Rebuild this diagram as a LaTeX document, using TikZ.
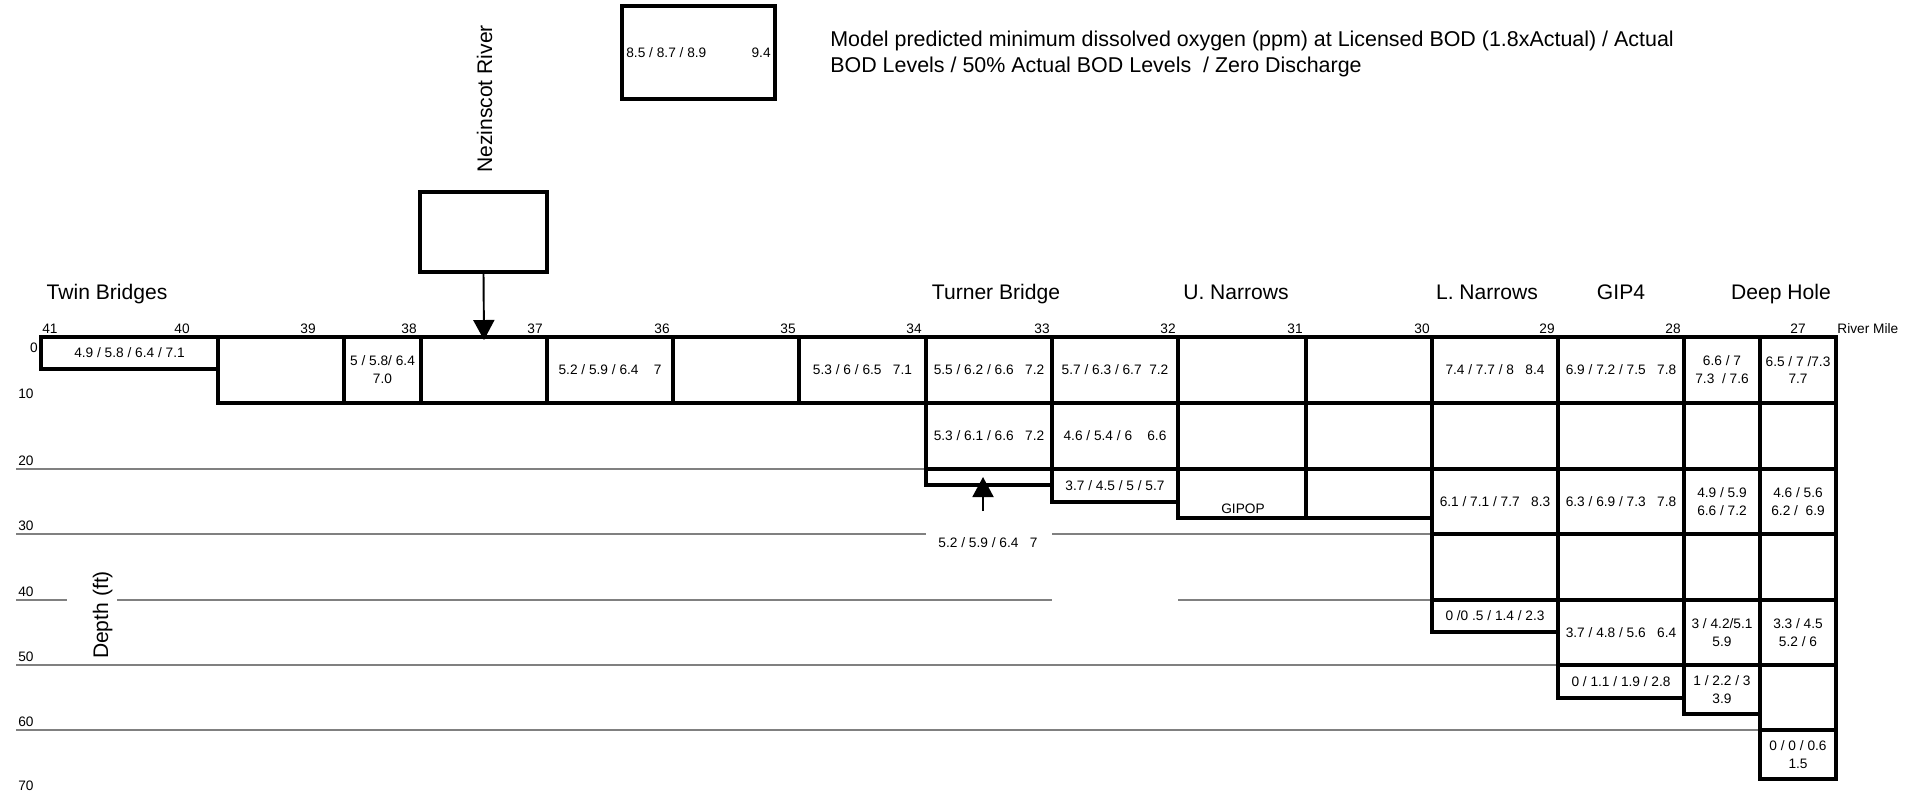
\documentclass[tikz,border=0pt]{standalone}
\usepackage{fontspec}
\setmainfont{Liberation Sans}
\usetikzlibrary{arrows.meta,positioning}
\definecolor{lvlgray}{RGB}{128,128,128}
\tikzset{
  cellln/.style={draw=black, line width=1.8pt},
  lvl/.style={lvlgray, line width=1.5pt},
  val/.style={font=\fontsize{7.8}{10.2}\selectfont, align=center, inner sep=0pt},
  mile/.style={font=\fontsize{7.8}{10.2}\selectfont, anchor=base, inner sep=0pt},
  stn/.style={font=\fontsize{12}{14.7}\selectfont, inner sep=0pt},
  legtxt/.style={font=\fontsize{12.2}{14.7}\selectfont, inner sep=0pt, anchor=base west},
  inflow/.style={-{Triangle[length=0.4cm, width=0.42cm]}, line width=1.1pt},
  keybox/.style={draw, line width=1.8pt, inner sep=0pt},
}
\newcommand{\oxcell}[6]{%
  \draw[cellln] (#2,#4) rectangle (#3,#5);
  \node[val] (#1) at ({(#2+#3)/2},{(#4+#5)/2}) {#6};}

\begin{document}
\begin{tikzpicture}[x=0.02cm, y=-0.02cm]
    \useasboundingbox (0,0) rectangle (1923,792);
    \node[keybox, minimum width=3.06cm, minimum height=1.86cm] (key) at (698.5,52.5) {};
    \node[val, anchor=west] (keyv) at (626,53) {8.5 / 8.7 / 8.9};
    \node[val, anchor=east] (keyz) at (771,53) {9.4};
    \node[legtxt] (leg1) at (830,46)
      {Model predicted minimum dissolved oxygen (ppm) at Licensed BOD (1.8xActual) / Actual};
    \node[legtxt] (leg2) at (830,72)
      {BOD Levels / 50\% Actual BOD Levels~~/ Zero Discharge};
    \node[keybox, minimum width=2.54cm, minimum height=1.6cm] (nez) at (483.5,232) {};
    \node[stn, rotate=90, anchor=base] (nezlbl) at (492,99) {Nezinscot River};
    \coordinate (nezin) at (484,340);
    \foreach \s/\x in {Twin Bridges/107, Turner Bridge/996, U. Narrows/1236,
                       L. Narrows/1487, GIP4/1621, Deep Hole/1781}
      \node[stn, anchor=base] (st\x) at (\x,299) {\s};
    \foreach \m/\x in {41/50,40/182,39/308,38/409,37/535,36/662,35/788,34/914,
                       33/1042,32/1168,31/1295,30/1422,29/1547,28/1673,27/1798}
      \node[mile] (m\m) at (\x,333) {\m};
    \node[mile, anchor=base west] (rm) at (1837,333) {River Mile};
    \node[mile] (d0) at (34,352) {0};
    \foreach \d/\y in {10/398,20/465,30/530,40/596,50/661,60/726,70/790}
      \node[mile] (d\d) at (26,\y) {\d};
    \node[stn, rotate=90, anchor=base] (depth) at (108,615) {Depth (ft)};
    \draw[lvl] (16,469) -- (926,469);
    \draw[lvl] (16,534) -- (926,534);
    \draw[lvl] (1052,534) -- (1432,534);
    \draw[lvl] (16,600) -- (67,600);
    \draw[lvl] (117,600) -- (1052,600);
    \draw[lvl] (1178,600) -- (1432,600);
    \draw[lvl] (16,665) -- (1558,665);
    \draw[lvl] (16,730) -- (1760,730);
    \oxcell{r1a}{41}{218}{337}{369}{4.9 / 5.8 / 6.4 / 7.1}
    \oxcell{r1b}{218}{344}{337}{403}{}
    \oxcell{r1c}{344}{421}{337}{403}{5 / 5.8/ 6.4\\7.0}
    \oxcell{r1d}{421}{547}{337}{403}{}
    \oxcell{r1e}{547}{673}{337}{403}{5.2 / 5.9 / 6.4~~~~7}
    \oxcell{r1f}{673}{799}{337}{403}{}
    \oxcell{r1g}{799}{926}{337}{403}{5.3 / 6 / 6.5~~~7.1}
    \oxcell{r1h}{926}{1052}{337}{403}{5.5 / 6.2 / 6.6~~~7.2}
    \oxcell{r1i}{1052}{1178}{337}{403}{5.7 / 6.3 / 6.7~~7.2}
    \oxcell{r1j}{1178}{1306}{337}{403}{}
    \oxcell{r1k}{1306}{1432}{337}{403}{}
    \oxcell{r1l}{1432}{1558}{337}{403}{7.4 / 7.7 / 8~~~8.4}
    \oxcell{r1m}{1558}{1684}{337}{403}{6.9 / 7.2 / 7.5~~~7.8}
    \oxcell{r1n}{1684}{1760}{337}{403}{6.6 / 7\\7.3~~/ 7.6}
    \oxcell{r1o}{1760}{1836}{337}{403}{6.5 / 7 /7.3\\7.7}
    \oxcell{r2h}{926}{1052}{403}{469}{5.3 / 6.1 / 6.6~~~7.2}
    \oxcell{r2i}{1052}{1178}{403}{469}{4.6 / 5.4 / 6~~~~6.6}
    \oxcell{r2j}{1178}{1306}{403}{469}{}
    \oxcell{r2k}{1306}{1432}{403}{469}{}
    \oxcell{r2l}{1432}{1558}{403}{469}{}
    \oxcell{r2m}{1558}{1684}{403}{469}{}
    \oxcell{r2n}{1684}{1760}{403}{469}{}
    \oxcell{r2o}{1760}{1836}{403}{469}{}
    \oxcell{r3h}{926}{1052}{469}{485}{}
    \oxcell{r3i}{1052}{1178}{469}{502}{3.7 / 4.5 / 5 / 5.7}
    \oxcell{r3j}{1178}{1306}{469}{518}{}
    \oxcell{r3k}{1306}{1432}{469}{518}{}
    \oxcell{r3l}{1432}{1558}{469}{534}{6.1 / 7.1 / 7.7~~~8.3}
    \oxcell{r3m}{1558}{1684}{469}{534}{6.3 / 6.9 / 7.3~~~7.8}
    \oxcell{r3n}{1684}{1760}{469}{534}{4.9 / 5.9\\6.6 / 7.2}
    \oxcell{r3o}{1760}{1836}{469}{534}{4.6 / 5.6\\6.2 /~~6.9}
    \node[val] (gipop) at (1243,509) {GIPOP};
    \oxcell{r4l}{1432}{1558}{534}{600}{}
    \oxcell{r4m}{1558}{1684}{534}{600}{}
    \oxcell{r4n}{1684}{1760}{534}{600}{}
    \oxcell{r4o}{1760}{1836}{534}{600}{}
    \oxcell{r5l}{1432}{1558}{600}{632}{0 /0 .5 / 1.4 / 2.3}
    \oxcell{r5m}{1558}{1684}{600}{665}{3.7 / 4.8 / 5.6~~~6.4}
    \oxcell{r5n}{1684}{1760}{600}{665}{3 / 4.2/5.1\\5.9}
    \oxcell{r5o}{1760}{1836}{600}{665}{3.3 / 4.5\\5.2 / 6}
    \oxcell{r6m}{1558}{1684}{665}{698}{0 / 1.1 / 1.9 / 2.8}
    \oxcell{r6n}{1684}{1760}{665}{714}{1 / 2.2 / 3\\3.9}
    \oxcell{r6o}{1760}{1836}{665}{730}{}
    \oxcell{r7o}{1760}{1836}{730}{779}{0 / 0 / 0.6\\1.5}
    \node[val] (tblow) at (988,543) {5.2 / 5.9 / 6.4~~~7};
    \coordinate (tbup) at (983,511);
    \coordinate (tbtip) at (983,477);
    \draw[inflow] (tbup) -- (tbtip);
    \draw[inflow] (nez.south) -- (nezin);
\end{tikzpicture}
\end{document}
